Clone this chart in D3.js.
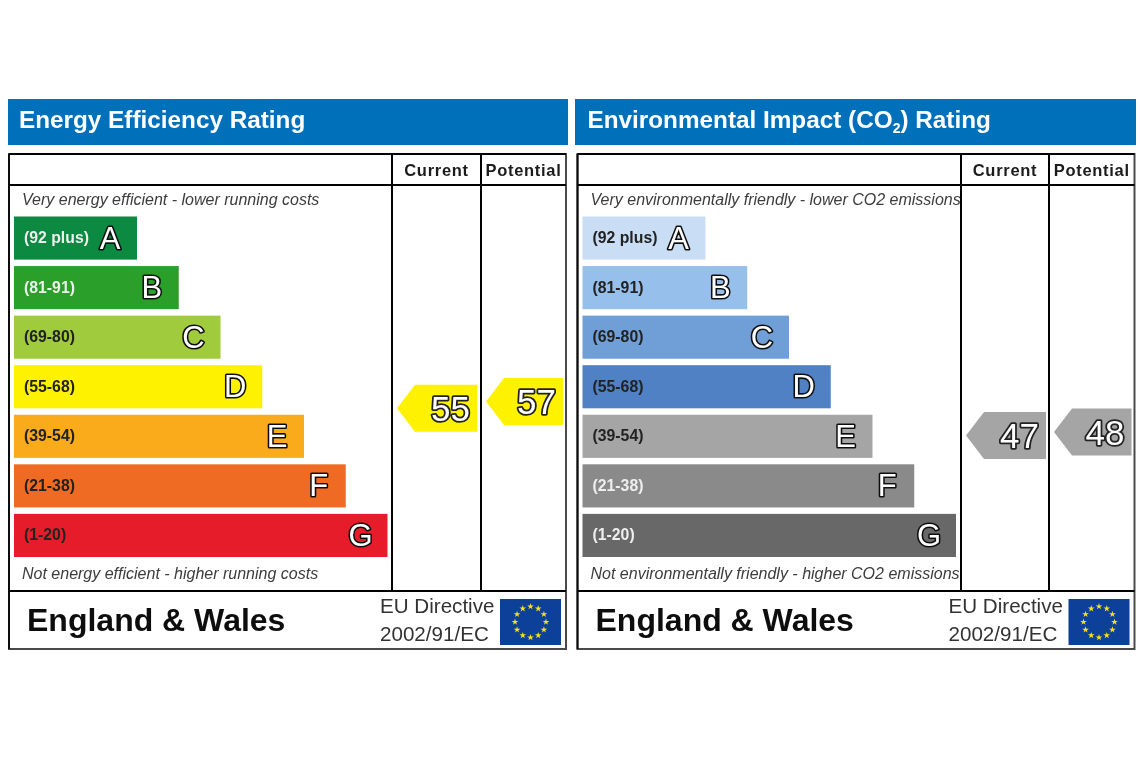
<!DOCTYPE html>
<html><head><meta charset="utf-8">
<script src="https://cdnjs.cloudflare.com/ajax/libs/d3/7.8.5/d3.min.js"></script>
<style>
html,body{margin:0;padding:0;background:#fff}
svg{display:block}
text{font-family:"Liberation Sans",Arial,sans-serif}
</style></head><body><div id="chart"></div>
<script>
const bandLabels = ["(92 plus)","(81-91)","(69-80)","(55-68)","(39-54)","(21-38)","(1-20)"];
const bandLetters = ["A","B","C","D","E","F","G"];
const energyColors = ["#0b8a43","#2ca02c","#a0cb3c","#fff200","#f9ab1f","#ef6b24","#e61f2a"];
const co2Colors = ["#c9def4","#97bfec","#6f9fd8","#4f81c4","#a5a5a5","#8a8a8a","#686868"];
const co2TextColors = ["#222","#222","#222","#222","#222","#eee","#eee"];
const energyTextColors = ["#eee","#eee","#222","#222","#222","#222","#222"];
const energyScores = [55,57];
const co2Scores = [47,48];
const columnNames = ["Current","Potential"];

const W=1140,H=762;
const svg=d3.select("#chart").append("svg").attr("width",W).attr("height",H);
const defs=svg.append("defs");
defs.append("filter").attr("id","soft").attr("x","-2%").attr("y","-2%").attr("width","104%").attr("height","104%")
  .append("feGaussianBlur").attr("stdDeviation",0.6);
const root=svg.append("g").attr("filter","url(#soft)");

const yBand=d3.scaleBand().domain(d3.range(7)).range([216.5,557]).paddingInner(0.13).paddingOuter(0);
const barLen=d3.scaleLinear().domain([0,6]).range([123,373.5]);
const yScore=d3.scaleLinear().domain([47,57]).range([435.5,401.5]);

function panel(cfg){
  const g=root.append("g").attr("transform",`translate(${cfg.dx},0)`);
  g.append("rect").attr("x",8+cfg.titleDx).attr("y",99).attr("width",cfg.titleW).attr("height",46).attr("fill","#0470bb");
  const t=g.append("text").attr("x",19).attr("y",128).attr("fill","#fff").attr("font-size",24.3).attr("font-weight","bold");
  cfg.title.forEach(p=>{
    const s=t.append("tspan").text(p.t);
    if(p.sub) s.attr("font-size",14).attr("dy",5);
    else if(p.after) s.attr("dy",-5);
  });

  const x0=9,x1=566,yT=154,yH=185,yF=591,yB=649,c1=cfg.c1,c2=cfg.c2;
  g.append("rect").attr("x",x0).attr("y",yT).attr("width",x1-x0).attr("height",yB-yT).attr("fill","#fff").attr("stroke","#4a4a4a").attr("stroke-width",2);
  g.append("line").attr("x1",x0).attr("x2",x1).attr("y1",yT).attr("y2",yT).attr("stroke","#000").attr("stroke-width",2);
  g.append("line").attr("x1",x0).attr("x2",x0).attr("y1",yT).attr("y2",yB).attr("stroke","#111").attr("stroke-width",2);
  [yH,yF].forEach(y=>g.append("line").attr("x1",x0).attr("x2",x1).attr("y1",y).attr("y2",y).attr("stroke","#000").attr("stroke-width",2));
  [c1,c2].forEach(x=>g.append("line").attr("x1",x).attr("x2",x).attr("y1",yT).attr("y2",yF).attr("stroke","#000").attr("stroke-width",2));

  columnNames.forEach((n,i)=>{
    g.append("text").attr("x",i?(c2+x1)/2:(c1+c2)/2).attr("y",176).attr("text-anchor","middle")
     .attr("font-size",16.5).attr("font-weight","bold").attr("letter-spacing",0.7).attr("fill","#1c1c1c").text(n);
  });
  g.append("text").attr("x",22).attr("y",205).attr("font-size",16).attr("font-style","italic").attr("fill","#3c3c3c").text(cfg.topNote);
  g.append("text").attr("x",22).attr("y",579).attr("font-size",16).attr("font-style","italic").attr("fill","#3c3c3c").text(cfg.bottomNote);

  const rows=g.selectAll("g.band").data(bandLabels).join("g").attr("class","band");
  rows.append("rect").attr("x",14).attr("y",(d,i)=>yBand(i)).attr("width",(d,i)=>barLen(i)).attr("height",yBand.bandwidth()).attr("fill",(d,i)=>cfg.colors[i]);
  rows.append("text").attr("x",24).attr("y",(d,i)=>yBand(i)+yBand.bandwidth()/2+5).attr("font-size",15.8).attr("font-weight","bold").attr("fill",(d,i)=>cfg.textColors[i]).text(d=>d);
  rows.append("text").attr("x",(d,i)=>14+barLen(i)-27).attr("y",(d,i)=>yBand(i)+yBand.bandwidth()/2+10.5).attr("text-anchor","middle")
    .attr("font-size",31).attr("fill","#fff").attr("stroke","#111").attr("stroke-width",3.2).attr("paint-order","stroke").attr("stroke-linejoin","round")
    .text((d,i)=>bandLetters[i]);

  const geom=[{l:c1+5,r:c1+85},{l:c2+5,r:x1-3}];
  cfg.scores.forEach((s,i)=>{
    const cy=yScore(s),hh=23.5,{l,r}=geom[i],sh=l+18;
    const a=g.append("g");
    a.append("path").attr("d",d3.line()([[l,cy],[sh,cy-hh],[r,cy-hh],[r,cy+hh],[sh,cy+hh]])+"Z").attr("fill",cfg.arrow);
    a.append("text").attr("x",r-7).attr("y",cy+12.5).attr("text-anchor","end").attr("font-size",35).attr("fill","#fff")
      .attr("stroke","#222").attr("stroke-width",3.6).attr("paint-order","stroke").attr("stroke-linejoin","round").text(s);
  });

  g.append("text").attr("x",27).attr("y",631).attr("font-size",32).attr("font-weight","bold").attr("fill","#111").text("England & Wales");
  g.append("text").attr("x",380).attr("y",613).attr("font-size",20.6).attr("fill","#333").text("EU Directive");
  g.append("text").attr("x",380).attr("y",641).attr("font-size",20.6).attr("fill","#333").text("2002/91/EC");
  g.append("rect").attr("x",500).attr("y",599).attr("width",61).attr("height",46).attr("fill","#0f3f98");
  const star=d3.symbol().type(d3.symbolStar).size(14);
  g.selectAll("path.star").data(d3.range(12)).join("path").attr("class","star").attr("d",star)
    .attr("fill","#f7e11b")
    .attr("transform",d=>{const a=d/12*2*Math.PI;return `translate(${530.5+15.5*Math.sin(a)},${622-15.5*Math.cos(a)})`;});
}

panel({dx:0,titleDx:0,titleW:560,c1:392,c2:481,colors:energyColors,textColors:energyTextColors,scores:energyScores,arrow:"#fff200",
  title:[{t:"Energy Efficiency Rating"}],
  topNote:"Very energy efficient - lower running costs",bottomNote:"Not energy efficient - higher running costs"});
panel({dx:568.5,titleDx:-1.5,titleW:561,c1:392.5,c2:480.5,colors:co2Colors,textColors:co2TextColors,scores:co2Scores,arrow:"#a5a5a5",
  title:[{t:"Environmental Impact (CO"},{t:"2",sub:true},{t:") Rating",after:true}],
  topNote:"Very environmentally friendly - lower CO2 emissions",bottomNote:"Not environmentally friendly - higher CO2 emissions"});
</script></body></html>
